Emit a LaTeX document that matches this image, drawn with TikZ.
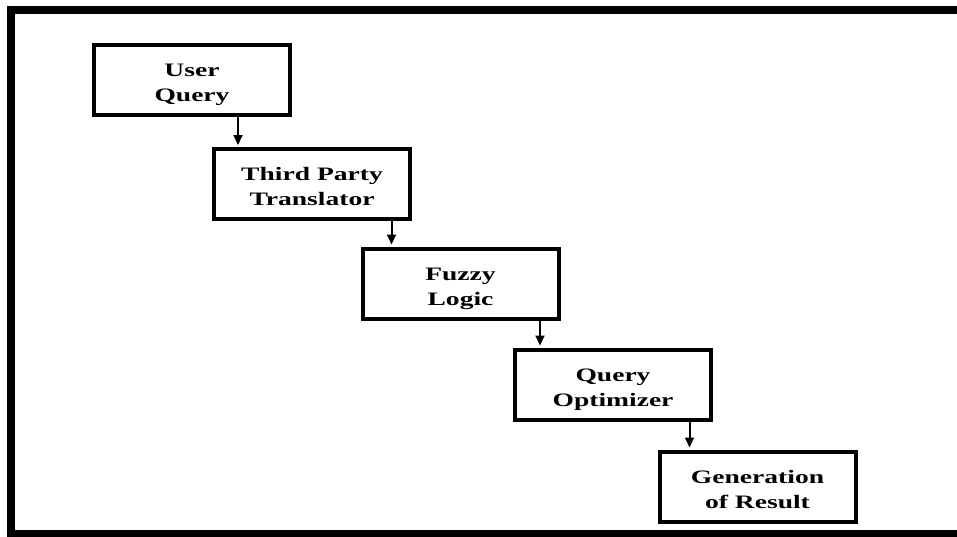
\documentclass[tikz,border=0pt]{standalone}
\usepackage{fontspec}
\setmainfont{Liberation Serif}[FakeStretch=1.45]
\usetikzlibrary{arrows.meta}
\newcommand{\twolines}[2]{\raisebox{-4pt}[\height][\depth]{\begin{tabular}{@{}c@{}}#1\\#2\end{tabular}}}
\begin{document}
\begin{tikzpicture}[x=1pt,y=1pt,
  stepbox/.style={draw=black, line width=4pt, minimum width=196pt, minimum height=70pt,
    inner sep=0pt, font=\fontsize{19}{25}\selectfont\bfseries},
  arr/.style={line width=2pt, -{Triangle[length=10pt,width=9pt]}}]
\useasboundingbox (0,0) rectangle (957,-536);
\fill[white] (0,0) rectangle (957,-536);
% frame
\draw[line width=8pt] (957,-10) -- (11,-10) -- (11,-534) -- (957,-534);
% boxes
\node[stepbox] (b1) at (192,-80) {\twolines{User}{Query}};
\node[stepbox] (b2) at (312,-184) {\twolines{Third Party}{Translator}};
\node[stepbox] (b3) at (460.5,-283.5) {\twolines{Fuzzy}{Logic}};
\node[stepbox] (b4) at (613,-384.5) {\twolines{Query}{Optimizer}};
\node[stepbox] (b5) at (757.5,-486.5) {\twolines{Generation}{of Result}};
% arrow anchors
\coordinate (a2) at ([xshift=26pt,yshift=2pt]b2.north west);
\coordinate (a3) at ([xshift=31pt,yshift=2pt]b3.north west);
\coordinate (a4) at ([xshift=27pt,yshift=2pt]b4.north west);
\coordinate (a5) at ([xshift=32pt,yshift=2pt]b5.north west);
\draw[arr] (b1.south -| a2) -- (a2);
\draw[arr] (b2.south -| a3) -- (a3);
\draw[arr] (b3.south -| a4) -- (a4);
\draw[arr] (b4.south -| a5) -- (a5);
\end{tikzpicture}
\end{document}
